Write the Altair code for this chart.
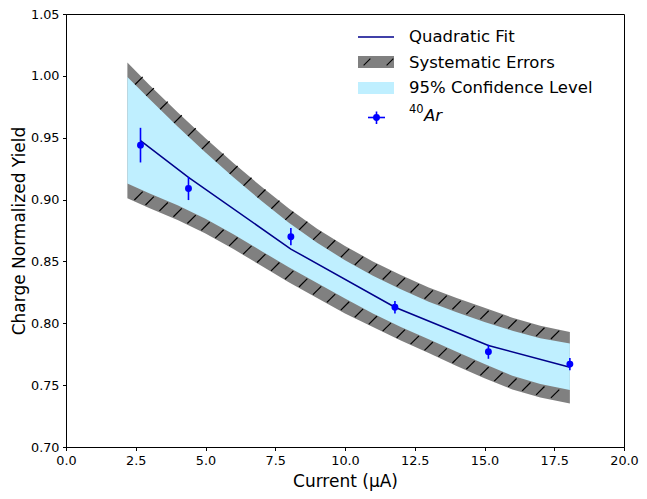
import altair as alt
import pandas as pd

# ---- measured data points (40Ar) ----
current = [2.67, 4.39, 8.06, 11.79, 15.14, 18.06]
yield_val = [0.944, 0.909, 0.870, 0.813, 0.777, 0.767]
yield_err = [0.014, 0.0094, 0.007, 0.005, 0.0057, 0.005]
fit_val = [0.9476, 0.918, 0.860, 0.813, 0.782, 0.7645]

# ---- bands ----
band_x = [2.2, 3.0, 4.0, 5.0, 6.0, 7.0, 8.0, 9.0, 10.0, 11.0, 12.0, 13.0, 14.0, 15.0, 16.0, 17.0, 18.06]
ci_hi = [0.999, 0.981, 0.959, 0.938, 0.918, 0.899, 0.881, 0.865, 0.851, 0.8385, 0.8275, 0.8175, 0.809, 0.801, 0.794, 0.788, 0.7836]
ci_lo = [0.913, 0.905, 0.8955, 0.8845, 0.872, 0.8585, 0.845, 0.8325, 0.820, 0.808, 0.797, 0.787, 0.777, 0.767, 0.7575, 0.751, 0.746]
sys_hi = [1.0107, 0.9925, 0.9705, 0.9495, 0.9295, 0.9105, 0.8925, 0.8765, 0.8625, 0.850, 0.839, 0.829, 0.8205, 0.8125, 0.8045, 0.798, 0.793]
sys_lo = [0.901, 0.893, 0.8835, 0.8725, 0.860, 0.8465, 0.833, 0.8205, 0.808, 0.797, 0.786, 0.776, 0.7655, 0.7555, 0.7465, 0.740, 0.7352]

x_ticks = [0.0, 2.5, 5.0, 7.5, 10.0, 12.5, 15.0, 17.5, 20.0]
y_ticks = [0.70, 0.75, 0.80, 0.85, 0.90, 0.95, 1.00, 1.05]
legend_labels = ["Quadratic Fit", "Systematic Errors", "95% Confidence Level", "40", "Ar"]

FONT = "DejaVu Sans"
SLASH = "M-1,1L1,-1"

pts = pd.DataFrame({"x": current, "y": yield_val, "e": yield_err, "fit": fit_val})
bands = pd.DataFrame({"x": band_x, "ci_hi": ci_hi, "ci_lo": ci_lo,
                      "sys_hi": sys_hi, "sys_lo": sys_lo})
one = pd.DataFrame({"a": [0]})

xs = alt.Scale(domain=[0, 20], nice=False, zero=False)
ys = alt.Scale(domain=[0.70, 1.05], nice=False, zero=False)

xax = alt.Axis(values=x_ticks, format=".1f", title="Current (μA)", grid=False,
               labelFlush=False)
yax = alt.Axis(values=y_ticks, format=".2f", title="Charge Normalized Yield", grid=False,
               labelFlush=False)

sys_band = alt.Chart(bands).mark_area(color="#808080", opacity=1).encode(
    x=alt.X("x:Q", scale=xs, axis=xax),
    y=alt.Y("sys_lo:Q", scale=ys, axis=yax),
    y2="sys_hi:Q",
)

# hatch marks in the gray band: at the sample points and halfway between them
hatch_grid = alt.Chart(bands).transform_filter(
    "datum.x > 2.4 && datum.x < 17.9"
).transform_calculate(
    hu="(datum.sys_hi + datum.ci_hi) / 2",
    hl="(datum.sys_lo + datum.ci_lo) / 2",
).transform_fold(["hu", "hl"], as_=["side", "hy"]).mark_point(
    shape=SLASH, filled=False, stroke="black", strokeWidth=1.2, size=70, opacity=1
).encode(x=alt.X("x:Q", scale=xs), y=alt.Y("hy:Q", scale=ys))

hatch_mid = alt.Chart(bands).transform_window(
    nx="lead(x)", nsh="lead(sys_hi)", nch="lead(ci_hi)",
    nsl="lead(sys_lo)", ncl="lead(ci_lo)",
    sort=[alt.SortField("x")],
).transform_filter("datum.nx != null").transform_calculate(
    mx="(datum.x + datum.nx) / 2",
    hu="(datum.sys_hi + datum.ci_hi + datum.nsh + datum.nch) / 4",
    hl="(datum.sys_lo + datum.ci_lo + datum.nsl + datum.ncl) / 4",
).transform_fold(["hu", "hl"], as_=["side", "hy"]).mark_point(
    shape=SLASH, filled=False, stroke="black", strokeWidth=1.2, size=70, opacity=1
).encode(x=alt.X("mx:Q", scale=xs), y=alt.Y("hy:Q", scale=ys))

ci_band = alt.Chart(bands).mark_area(color="#BFEFFF", opacity=1).encode(
    x=alt.X("x:Q", scale=xs), y=alt.Y("ci_lo:Q", scale=ys), y2="ci_hi:Q"
)

fit_line = alt.Chart(pts).mark_line(color="#00008B", strokeWidth=1.5).encode(
    x=alt.X("x:Q", scale=xs), y=alt.Y("fit:Q", scale=ys)
)

ebars = alt.Chart(pts).transform_calculate(
    lo="datum.y - datum.e", hi="datum.y + datum.e"
).mark_rule(color="#0000FF", strokeWidth=1.6).encode(
    x=alt.X("x:Q", scale=xs), y=alt.Y("lo:Q", scale=ys), y2="hi:Q"
)

dots = alt.Chart(pts).mark_circle(color="#0000FF", size=48, opacity=1).encode(
    x=alt.X("x:Q", scale=xs), y=alt.Y("y:Q", scale=ys)
)

# ---- legend (upper right, inside the plot) ----
L = alt.Chart(one)
leg = [
    L.mark_rule(color="#00008B", strokeWidth=1.5).encode(
        x=alt.value(292), x2=alt.value(328), y=alt.value(23)),
    L.mark_rect(color="#808080").encode(
        x=alt.value(292), x2=alt.value(328), y=alt.value(42), y2=alt.value(54)),
    L.mark_point(shape=SLASH, filled=False, stroke="black", strokeWidth=1.1, size=45, opacity=1).encode(
        x=alt.value(301), y=alt.value(48)),
    L.mark_point(shape=SLASH, filled=False, stroke="black", strokeWidth=1.1, size=45, opacity=1).encode(
        x=alt.value(324), y=alt.value(48)),
    L.mark_rect(color="#BFEFFF").encode(
        x=alt.value(292), x2=alt.value(328), y=alt.value(68), y2=alt.value(80)),
    L.mark_rule(color="#0000FF", strokeWidth=1.6).encode(
        x=alt.value(302), x2=alt.value(319), y=alt.value(103.5)),
    L.mark_rule(color="#0000FF", strokeWidth=1.6).encode(
        x=alt.value(310.5), y=alt.value(97.5), y2=alt.value(110)),
    L.mark_circle(color="#0000FF", size=48, opacity=1).encode(
        x=alt.value(310.5), y=alt.value(103.5)),
]
for i, yy in enumerate([23, 48.5, 74]):
    leg.append(L.mark_text(align="left", baseline="middle", font=FONT, fontSize=16.5,
                           color="black").encode(
        x=alt.value(343), y=alt.value(yy), text=alt.value(legend_labels[i])))
leg.append(L.mark_text(align="left", baseline="middle", font=FONT, fontSize=11.5,
                       color="black").encode(
    x=alt.value(343), y=alt.value(95.5), text=alt.value(legend_labels[3])))
leg.append(L.mark_text(align="left", baseline="middle", font=FONT, fontSize=16.5,
                       fontStyle="italic", color="black").encode(
    x=alt.value(358), y=alt.value(102), text=alt.value(legend_labels[4])))

chart = alt.layer(
    sys_band, hatch_grid, hatch_mid, ci_band, fit_line, ebars, dots, *leg
).properties(
    width=558, height=433,
    autosize=alt.AutoSizeParams(type="none"),
    padding={"left": 58, "top": 6, "right": 15, "bottom": 44},
    background="white",
).configure_view(
    stroke="black", strokeWidth=1
).configure_axis(
    labelFont=FONT, titleFont=FONT, labelFontSize=12.8, titleFontSize=17,
    titleFontWeight="normal", labelColor="black", titleColor="black",
    tickColor="black", domainColor="black", tickSize=3.5, tickWidth=1,
    domainWidth=1, labelPadding=3.5,
).configure_axisX(titlePadding=7).configure_axisY(titlePadding=2)

chart.save("out.html", embed_options={"renderer": "svg", "actions": False})
